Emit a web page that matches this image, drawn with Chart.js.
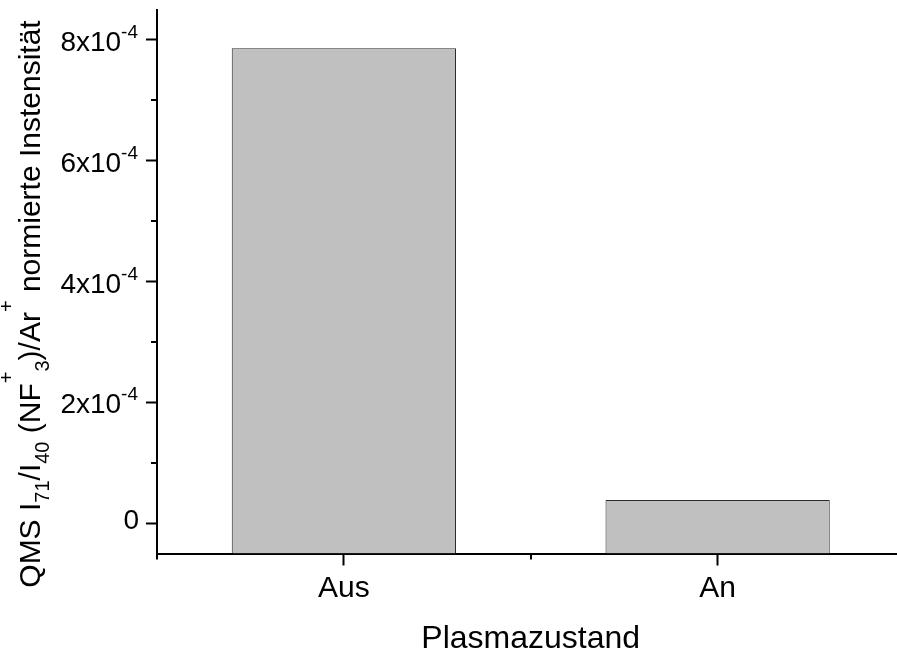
<!DOCTYPE html>
<html>
<head>
<meta charset="utf-8">
<title>Plasmazustand</title>
<script src="https://cdn.jsdelivr.net/npm/chart.js@4.4.0/dist/chart.umd.min.js"></script>
<style>
  html, body { margin: 0; padding: 0; background: #fff; overflow: hidden; }
  #wrap { width: 910px; height: 655px; }
</style>
</head>
<body>
<div id="wrap"><canvas id="plasmaChart" width="910" height="655"></canvas></div>
<script>
const categories = ["Aus", "An"];
const intensities = [7.86e-4, 3.85e-5];

const yMin = -0.5e-4;
const yMax = 8.5e-4;
const yTickValues = [0, 2e-4, 4e-4, 6e-4, 8e-4];
const yTickLabels = [["0", ""], ["2x10", "-4"], ["4x10", "-4"], ["6x10", "-4"], ["8x10", "-4"]];
const yMinorValues = [1e-4, 3e-4, 5e-4, 7e-4];

const xTitle = "Plasmazustand";
// [text, kind] where kind is "", "sub" or "sup"
const yTitleParts = [
  ["QMS I", ""], ["71", "sub"], ["/I", ""], ["40", "sub"], [" (NF", ""],
  ["+", "sup"], ["3", "sub"], [")/Ar", ""], ["+", "sup"], [" normierte Instensität", ""]
];

const FONT = '"Liberation Sans", Arial, Helvetica, sans-serif';

// draw a run of text pieces [text, size, shift] one after the other
function drawPieces(ctx, pieces, x, y, align) {
  let total = 0;
  pieces.forEach((p) => {
    ctx.font = p[1] + "px " + FONT;
    total += ctx.measureText(p[0]).width;
  });
  let cx = x;
  if (align === "right") cx = x - total;
  if (align === "center") cx = x - total / 2;
  pieces.forEach((p) => {
    ctx.font = p[1] + "px " + FONT;
    ctx.fillText(p[0], cx, y + p[2]);
    cx += ctx.measureText(p[0]).width;
  });
}

const axisText = {
  id: "axisText",
  afterDraw(chart) {
    const ctx = chart.ctx;
    const xs = chart.scales.x;
    const ys = chart.scales.y;
    const area = chart.chartArea;
    ctx.save();
    ctx.fillStyle = "#000";
    ctx.strokeStyle = "#000";
    ctx.textAlign = "left";
    ctx.textBaseline = "alphabetic";

    // minor ticks
    ctx.lineWidth = 2;
    ctx.beginPath();
    yMinorValues.forEach((v) => {
      const py = Math.round(ys.getPixelForValue(v));
      ctx.moveTo(area.left - 6, py);
      ctx.lineTo(area.left, py);
    });
    for (let i = -0.5; i < categories.length; i += 1) {
      const px = Math.round(xs.getPixelForValue(i));
      ctx.moveTo(px, area.bottom);
      ctx.lineTo(px, area.bottom + 6);
    }
    ctx.stroke();

    // y tick labels with exponent
    yTickValues.forEach((v, i) => {
      const py = ys.getPixelForValue(v);
      const lab = yTickLabels[i];
      if (lab[1]) {
        drawPieces(ctx, [[lab[0], 28, 0], [lab[1], 19, -13]], 138, py + 11, "right");
      } else {
        drawPieces(ctx, [[lab[0], 28, 0]], 139, py + 6, "right");
      }
    });

    // category labels
    categories.forEach((c, i) => {
      drawPieces(ctx, [[c, 30, 0]], xs.getPixelForValue(i), 597, "center");
    });

    // x title
    drawPieces(ctx, [[xTitle, 32, 0]], (area.left + area.right) / 2, 648, "center");

    // y title, rotated
    ctx.translate(40, 304);
    ctx.rotate(-Math.PI / 2);
    const pieces = yTitleParts.map((p) => {
      if (p[1] === "sub") return [p[0], 20, 9];
      if (p[1] === "sup") return [p[0], 20, -27];
      return [p[0], 30, 0];
    });
    drawPieces(ctx, pieces, 0, 0, "center");
    ctx.restore();
  },
};

const ctx = document.getElementById("plasmaChart").getContext("2d");
new Chart(ctx, {
  type: "bar",
  data: {
    labels: categories,
    datasets: [
      {
        data: intensities,
        base: yMin,
        backgroundColor: "#c0c0c0",
        borderColor: "#2b2b2b",
        borderWidth: 1,
        barPercentage: 0.6,
        categoryPercentage: 1,
      },
    ],
  },
  options: {
    responsive: false,
    animation: false,
    layout: { padding: { top: 9.5, right: 5.5, left: 0, bottom: 0 } },
    plugins: {
      legend: { display: false },
      tooltip: { enabled: false },
    },
    scales: {
      x: {
        offset: true,
        grid: {
          offset: false,
          drawOnChartArea: false,
          tickLength: 12,
          tickWidth: 2,
          tickColor: "#000",
        },
        border: { color: "#000", width: 2 },
        ticks: { display: false },
        afterFit: (scale) => {
          scale.height = 101.5;
        },
      },
      y: {
        min: yMin,
        max: yMax,
        afterBuildTicks: (scale) => {
          scale.ticks = yTickValues.map((v) => ({ value: v }));
        },
        grid: {
          drawOnChartArea: false,
          tickLength: 11,
          tickWidth: 2,
          tickColor: "#000",
        },
        border: { color: "#000", width: 2 },
        ticks: { display: false },
        afterFit: (scale) => {
          scale.width = 157;
        },
      },
    },
  },
  plugins: [axisText],
});
</script>
</body>
</html>
